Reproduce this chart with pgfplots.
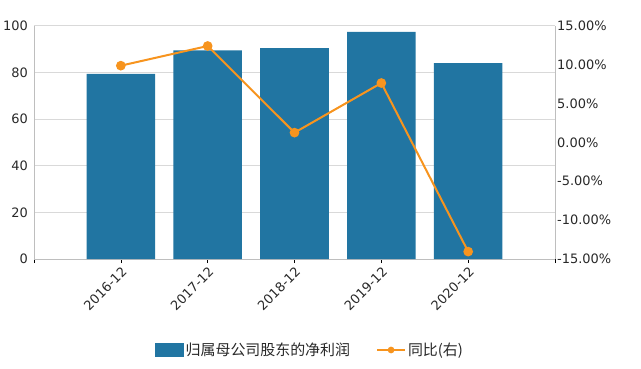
\documentclass[border=0pt]{standalone}
\usepackage{pgfplots}
\pgfplotsset{compat=1.18}
\usepackage{fontspec}
\setmainfont{DejaVu Sans}
\newfontfamily\cjk{Noto Sans CJK SC}
\definecolor{barblue}{RGB}{33,117,162}
\definecolor{lineor}{RGB}{247,148,30}
\definecolor{axgray}{RGB}{190,190,190}
\definecolor{gridgray}{RGB}{217,217,217}
\definecolor{txt}{RGB}{40,40,40}
\begin{document}
\begin{tikzpicture}[x=1bp,y=1bp]
\useasboundingbox (0,0) rectangle (641,368);
\begin{axis}[
  at={(34bp,109bp)}, anchor=south west, scale only axis,
  width=521bp, height=233.3bp,
  xmin=-1, xmax=5, ymin=0, ymax=100,
  xtick={-1,0,1,2,3,4,5},
  xticklabels={,2016-12,2017-12,2018-12,2019-12,2020-12,},
  ytick={0,20,40,60,80,100},
  ymajorgrids, grid style={gridgray, line width=0.8bp},
  axis x line*=bottom, axis y line*=left,
  axis line style={-, axgray, line width=0.8bp},
  tick align=outside, major tick length=4bp,
  xtick style={black, line width=0.6bp},
  ytick style={draw=none},
  /pgf/number format/assume math mode=true,
  ticklabel style={font=\fontsize{13}{15}\selectfont, text=txt},
  xticklabel style={rotate=45, anchor=north east, inner sep=2bp},
  yticklabel style={inner sep=2bp},
]
\addplot[ybar, bar width=0.79, fill=barblue, draw=none] coordinates {
  (0,79.3) (1,89.4) (2,90.4) (3,97.4) (4,84.0)
};
\end{axis}
\begin{axis}[
  at={(34bp,109bp)}, anchor=south west, scale only axis,
  width=521bp, height=233.3bp,
  xmin=-1, xmax=5, ymin=-15, ymax=15,
  axis x line=none, axis y line*=right,
  axis line style={-, axgray, line width=0.8bp},
  ytick={-15,-10,-5,0,5,10,15},
  ytick style={draw=none},
  /pgf/number format/assume math mode=true,
  yticklabel={\pgfmathprintnumber[fixed,fixed zerofill,precision=2]{\tick}\%},
  ticklabel style={font=\fontsize{13}{15}\selectfont, text=txt},
  yticklabel style={inner sep=2bp},
  legend style={at={(0.53,-0.39)}, anchor=center, draw=none, fill=none,
    font=\cjk\fontsize{15}{18}\selectfont, text=txt,
    /tikz/every even column/.append style={column sep=24bp}},
  legend columns=2,
]
\addlegendimage{legend image code/.code={\fill[barblue] (0bp,-6.5bp) rectangle (28bp,6.5bp);}}
\addlegendentry{归属母公司股东的净利润}
\addplot[lineor, line width=2bp, mark=*, mark size=3.8bp,
  mark options={fill=lineor, draw=lineor},
  legend image code/.code={\draw[lineor,line width=2bp] (0bp,0bp)--(28bp,0bp); \fill[lineor] (14bp,0bp) circle (2.3bp);}]
  coordinates {(0,9.86) (1,12.39) (2,1.25) (3,7.63) (4,-14.05)};
\addlegendentry{同比(右)}
\end{axis}
\end{tikzpicture}
\end{document}
